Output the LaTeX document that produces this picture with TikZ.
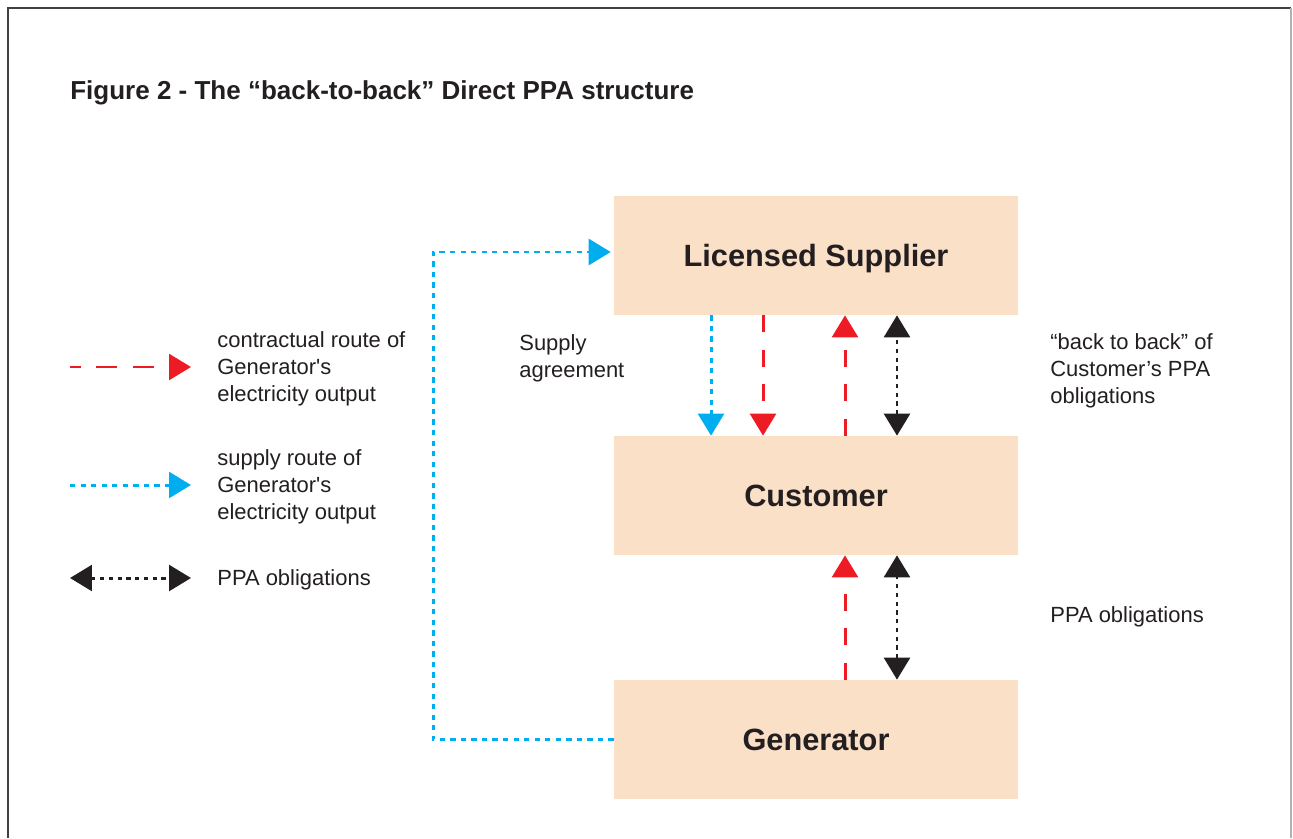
\documentclass[tikz,border=0pt]{standalone}
\usepackage{fontspec}
\setmainfont{Liberation Sans}[Ligatures=TeXOff]
\usetikzlibrary{arrows.meta}
\definecolor{peach}{HTML}{FBE0C8}
\definecolor{txt}{HTML}{231F20}
\definecolor{ared}{HTML}{ED1C24}
\definecolor{ablue}{HTML}{00AEEF}
\definecolor{ablack}{HTML}{231F20}
\tikzset{
  box/.style={rectangle, fill=peach, minimum width=8.08cm, minimum height=2.38cm, inner sep=0pt,
    text height=12.6pt, text depth=0pt,
    font=\fontsize{17.5pt}{20pt}\selectfont\bfseries, text=txt},
  lbl/.style={inner sep=0pt, align=left, text=txt, font=\fontsize{12.5pt}{15.3pt}\selectfont},
  tip/.style={-{Triangle[length=12.5pt,width=14.7pt]}},
  dtip/.style={{Triangle[length=12.5pt,width=14.7pt]}-{Triangle[length=12.5pt,width=14.7pt]}},
  redline/.style={draw=ared, line width=1.7pt, dash pattern=on 9.6pt off 10pt, tip},
  blueline/.style={draw=ablue, line width=1.7pt, dash pattern=on 3pt off 3pt, tip},
  blackline/.style={draw=ablack, line width=1.7pt, dash pattern=on 2.4pt off 2.6pt, dtip},
}
\begin{document}
\begin{tikzpicture}[x=0.02cm, y=-0.02cm]
\useasboundingbox (0,0) rectangle (1293,838);
% frame
\draw[line width=1.1pt, black!75] (8,838) -- (8,8) -- (1291,8);
\draw[line width=0.9pt, black!30] (1291,8) -- (1291,838);
% title
\node[anchor=base west, inner sep=0pt, text=txt, font=\fontsize{14.8pt}{17pt}\selectfont\bfseries] (title) at (70,99)
  {Figure 2 - The “back-to-back” Direct PPA structure};
% boxes
\node[box] (ls) at (816,255.5) {Licensed Supplier};
\node[box] (cu) at (816,495.5) {Customer};
\node[box] (gen) at (816,739.5) {Generator};
% arrows LS <-> Customer
\draw[blueline] ([xshift=-2.1cm]ls.south) -- ([xshift=-2.1cm]cu.north);
\draw[redline] ([xshift=-1.06cm]ls.south) -- ([xshift=-1.06cm]cu.north);
\draw[redline] ([xshift=0.58cm]cu.north) -- ([xshift=0.58cm]ls.south);
\draw[blackline] ([xshift=1.62cm]cu.north) -- ([xshift=1.62cm]ls.south);
% arrows Customer <-> Generator
\draw[redline] ([xshift=0.58cm]gen.north) -- ([xshift=0.58cm]cu.south);
\draw[blackline] ([xshift=1.62cm]gen.north) -- ([xshift=1.62cm]cu.south);
% supply route from generator to licensed supplier
\coordinate (bend) at (433,0);
\coordinate (lsin) at ([xshift=-0.06cm,yshift=0.07cm]ls.west);
\draw[blueline] (gen.west) -- (gen.west -| bend) |- (lsin);
% labels
\node[lbl, anchor=west] (sa) at (519,358) {Supply\\agreement};
\node[lbl, anchor=west] (btb) at (1050,371) {“back to back” of\\Customer’s PPA\\obligations};
\node[lbl, anchor=base west] (ppa2) at (1050,622) {PPA obligations};
% legend
\coordinate (l1a) at (70,367); \coordinate (l1b) at (191,367);
\coordinate (l2a) at (70,485); \coordinate (l2b) at (191,485);
\coordinate (l3a) at (70,578); \coordinate (l3b) at (191,578);
\draw[redline, dash pattern=on 12pt off 9pt, dash phase=6pt] (l1a) -- (l1b);
\draw[blueline] (l2a) -- (l2b);
\draw[blackline] (l3a) -- (l3b);
\node[lbl, anchor=west] (lg1) at (217,369) {contractual route of\\Generator's\\electricity output};
\node[lbl, anchor=west] (lg2) at (217,487) {supply route of\\Generator's\\electricity output};
\node[lbl, anchor=base west] (lg3) at (217,585) {PPA obligations};
\end{tikzpicture}
\end{document}
